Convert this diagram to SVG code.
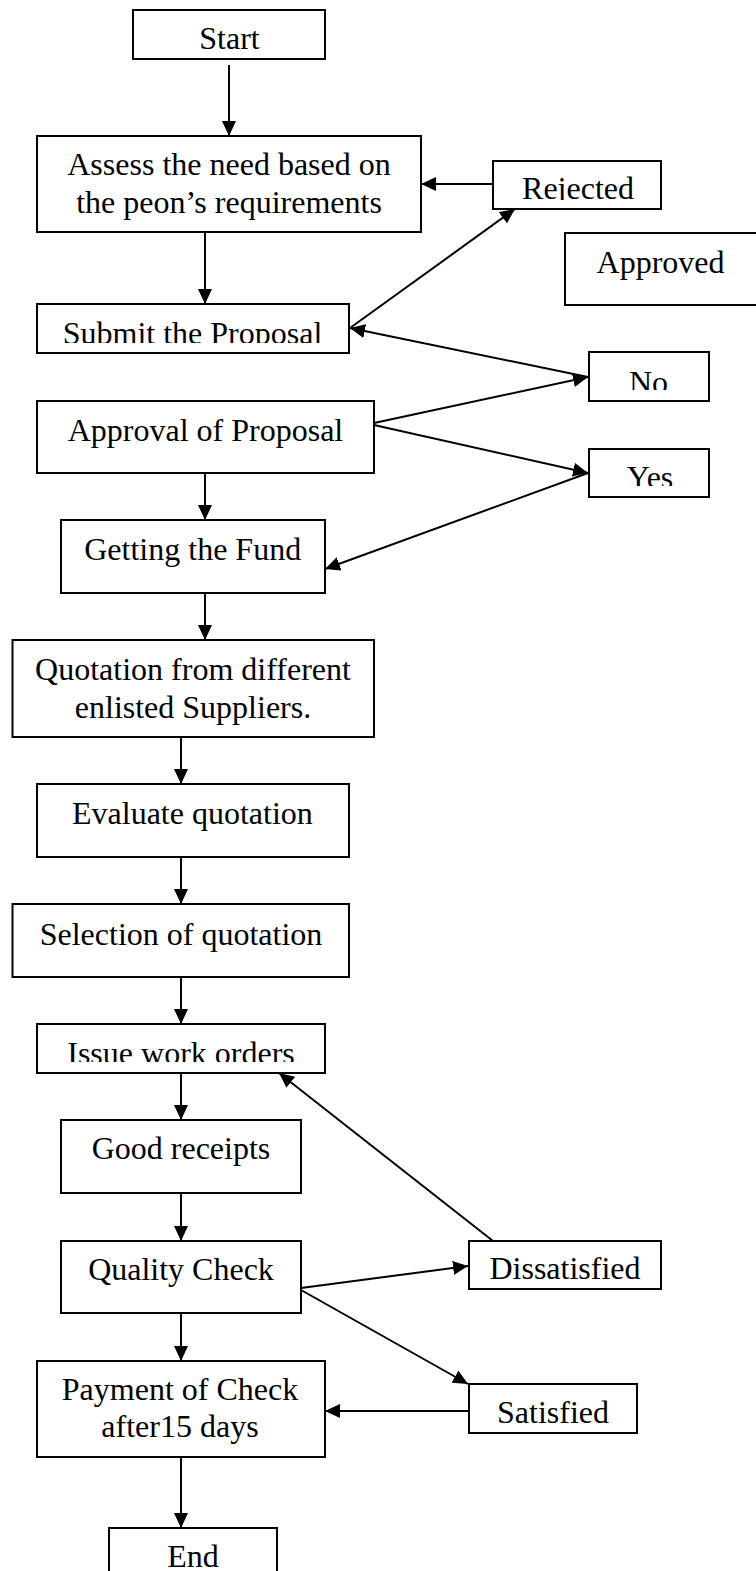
<svg xmlns="http://www.w3.org/2000/svg" width="756" height="1571" viewBox="0 0 756 1571">
<style>
.box{fill:#fff;stroke:#000;stroke-width:2}
.t{font-family:"Liberation Serif","Times New Roman",serif;font-size:32px;fill:#000;text-anchor:middle}
.c{stroke:#000;stroke-width:2;fill:none;marker-end:url(#ah)}
</style>
<defs>
<marker id="ah" markerUnits="userSpaceOnUse" markerWidth="16" markerHeight="14" refX="15" refY="7" orient="auto">
<path d="M0,0 L15,7 L0,14 z" fill="#000"/>
</marker>
<clipPath id="cRej"><rect x="490" y="150" width="180" height="50"/></clipPath>
<clipPath id="cSub"><rect x="30" y="300" width="330" height="43"/></clipPath>
<clipPath id="cNo"><rect x="585" y="350" width="130" height="40"/></clipPath>
<clipPath id="cYes"><rect x="585" y="445" width="130" height="41"/></clipPath>
<clipPath id="cIss"><rect x="30" y="1020" width="300" height="42"/></clipPath>
</defs>
<rect width="756" height="1571" fill="#fff"/>
<g id="connectors">
<line class="c" x1="229" y1="65" x2="229" y2="136"/>
<line class="c" x1="493" y1="184" x2="421" y2="184"/>
<line class="c" x1="205" y1="232" x2="205" y2="304"/>
<line class="c" x1="350" y1="328" x2="515" y2="209"/>
<line class="c" x1="588" y1="377" x2="350" y2="328"/>
<line class="c" x1="374" y1="423" x2="588" y2="377"/>
<line class="c" x1="374" y1="425" x2="588" y2="473"/>
<line class="c" x1="588" y1="473" x2="325" y2="569"/>
<line class="c" x1="205" y1="473" x2="205" y2="520"/>
<line class="c" x1="205" y1="593" x2="205" y2="640"/>
<line class="c" x1="181" y1="737" x2="181" y2="784"/>
<line class="c" x1="181" y1="857" x2="181" y2="904"/>
<line class="c" x1="181" y1="977" x2="181" y2="1024"/>
<line class="c" x1="181" y1="1073" x2="181" y2="1120"/>
<line class="c" x1="181" y1="1193" x2="181" y2="1241"/>
<line class="c" x1="301" y1="1288" x2="468" y2="1266"/>
<line class="c" x1="493" y1="1241" x2="279" y2="1073"/>
<line class="c" x1="301" y1="1290" x2="468" y2="1384"/>
<line class="c" x1="469" y1="1411" x2="325" y2="1411"/>
<line class="c" x1="181" y1="1313" x2="181" y2="1361"/>
<line class="c" x1="181" y1="1457" x2="181" y2="1528"/>
</g>
<g id="start"><rect class="box" x="133" y="10" width="192" height="49"/><text class="t" x="229.5" y="49">Start</text></g>
<g id="assess"><rect class="box" x="37" y="136" width="384" height="96"/><text class="t" x="229" y="175">Assess the need based on</text><text class="t" x="229" y="213">the peon’s requirements</text></g>
<g id="rejected"><rect class="box" x="493" y="161" width="168" height="48"/><text class="t" x="578" y="199" clip-path="url(#cRej)">Rejected</text></g>
<g id="approved"><rect class="box" x="565" y="233" width="200" height="72"/><text class="t" x="660.5" y="273">Approved</text></g>
<g id="submit"><rect class="box" x="37" y="304" width="312" height="49"/><text class="t" x="192.5" y="344" clip-path="url(#cSub)">Submit the Proposal</text></g>
<g id="no"><rect class="box" x="589" y="352" width="120" height="49"/><text class="t" x="648.5" y="393" clip-path="url(#cNo)">No</text></g>
<g id="approval"><rect class="box" x="37" y="401" width="337" height="72"/><text class="t" x="205.5" y="441">Approval of Proposal</text></g>
<g id="yes"><rect class="box" x="589" y="449" width="120" height="48"/><text class="t" x="650" y="488" clip-path="url(#cYes)">Yes</text></g>
<g id="fund"><rect class="box" x="61" y="520" width="264" height="73"/><text class="t" x="192.7" y="560">Getting the Fund</text></g>
<g id="quotation"><rect class="box" x="12.5" y="640" width="361.5" height="97"/><text class="t" x="193" y="680">Quotation from different</text><text class="t" x="193" y="718">enlisted Suppliers.</text></g>
<g id="evaluate"><rect class="box" x="37" y="784" width="312" height="73"/><text class="t" x="192.4" y="824">Evaluate quotation</text></g>
<g id="selection"><rect class="box" x="12.5" y="904" width="336.5" height="73"/><text class="t" x="181" y="945">Selection of quotation</text></g>
<g id="issue"><rect class="box" x="37" y="1024" width="288" height="49"/><text class="t" x="181" y="1064" clip-path="url(#cIss)">Issue work orders</text></g>
<g id="good"><rect class="box" x="61" y="1120" width="240" height="73"/><text class="t" x="181" y="1159">Good receipts</text></g>
<g id="quality"><rect class="box" x="61" y="1241" width="240" height="72"/><text class="t" x="181" y="1280">Quality Check</text></g>
<g id="dissatisfied"><rect class="box" x="469" y="1241" width="192" height="48"/><text class="t" x="565" y="1279">Dissatisfied</text></g>
<g id="satisfied"><rect class="box" x="469" y="1384" width="168" height="49"/><text class="t" x="553" y="1423">Satisfied</text></g>
<g id="payment"><rect class="box" x="37" y="1361" width="288" height="96"/><text class="t" x="180" y="1400">Payment of Check</text><text class="t" x="180" y="1437">after15 days</text></g>
<g id="end"><rect class="box" x="109" y="1528" width="168" height="60"/><text class="t" x="193" y="1567">End</text></g>
</svg>
